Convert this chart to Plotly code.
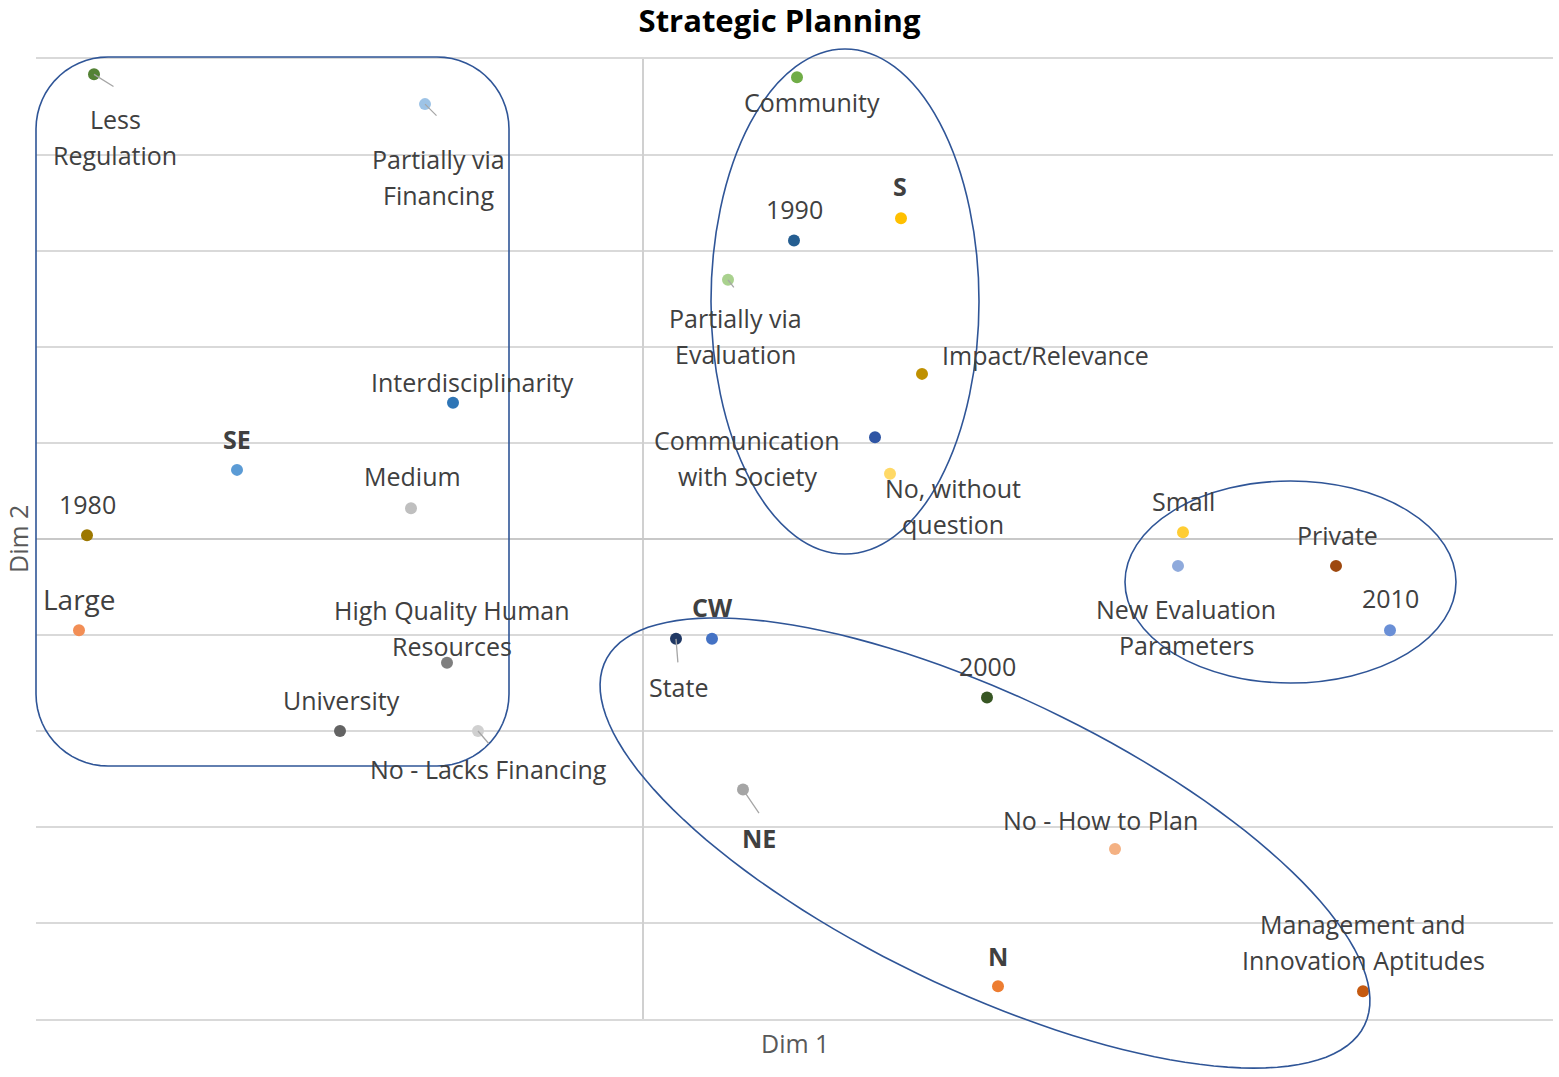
import numpy as np
import plotly.graph_objects as go

# category labels and their coordinates on the two dimensions
labels = [
    "Less\nRegulation", "Partially via\nFinancing", "Interdisciplinarity", "SE",
    "Medium", "1980", "Large", "High Quality Human\nResources", "University",
    "No - Lacks Financing", "CW", "State", "NE", "2000", "No - How to Plan", "N",
    "Management and\nInnovation Aptitudes", "Small", "New Evaluation\nParameters",
    "Private", "2010", "Community", "S", "1990", "Partially via\nEvaluation",
    "Impact/Relevance", "Communication\nwith Society", "No, without\nquestion",
]
dim1 = [-5.49, -2.18, -1.90, -4.06, -2.32, -5.56, -5.64, -1.96, -3.03, -1.65,
        0.69, 0.33, 1.00, 3.44, 4.72, 3.55, 7.20, 5.40, 5.35, 6.93, 7.47,
        1.54, 2.58, 1.51, 0.85, 2.79, 2.32, 2.47]
dim2 = [4.84, 4.53, 1.42, 0.72, 0.32, 0.04, -0.95, -1.29, -2.00, -2.00,
        -1.04, -1.04, -2.61, -1.65, -3.23, -4.66, -4.71, 0.07, -0.28, -0.28, -0.95,
        4.81, 3.34, 3.11, 2.70, 1.72, 1.06, 0.68]
regions = ["SE", "CW", "NE", "N", "S"]

colors = ["#548235", "#9dc3e6", "#2e75b6", "#5b9bd5", "#bfbfbf", "#9c7700", "#f28e55",
          "#7f7f7f", "#636363", "#d0d0d0", "#4472c4", "#203864", "#a5a5a5", "#375623",
          "#f4b183", "#ed7d31", "#c55a11", "#ffcd33", "#8faadc", "#9e480e", "#6a8fd6",
          "#70ad47", "#ffc000", "#255e91", "#a9d18e", "#bf9000", "#2f55a4", "#ffd966"]

# label offsets from the point in pixels (right, down)
label_off = [(21, 63), (13, 73), (19, -21), (0, -31), (1, -32), (0, -31), (0, -31),
             (5, -35), (1, -31), (10, 38), (0, -32), (2, 48), (16, 48), (0, -31),
             (-15, -29), (0, -30), (0, -49), (0, -31), (8, 61), (1, -31), (0, -32),
             (15, 25), (-1, -32), (0, -31), (7, 56), (123, -19), (-128, 21), (63, 32)]
# short leader lines (pixel offset of far end)
leaders = {0: (21, 13), 1: (13, 13), 24: (7, 9), 11: (2, 25), 12: (17, 25), 9: (12, 14)}
big_labels = {"Large": 28}

W, H = 1559, 1077
ML, MR, MT, MB = 36, 6, 59, 58
X0, X1 = -6.07, 9.10
Y0, Y1 = -5.0, 5.0
PW, PH = W - ML - MR, H - MT - MB


def paper(x, y):
    # pixel position -> paper coordinates (not clipped to the plot area)
    return (x - ML) / PW, 1 - (y - MT) / PH


fig = go.Figure()
fig.add_trace(go.Scatter(x=dim1, y=dim2, mode="markers",
                         marker=dict(size=12, color=colors), hoverinfo="skip",
                         showlegend=False))

font = "Segoe UI, Open Sans, Noto Sans, sans-serif"
for i, lab in enumerate(labels):
    lines = lab.split("\n")
    dx, dy = label_off[i]
    for k, line in enumerate(lines):
        shift = dy + (k - (len(lines) - 1) / 2) * 36
        txt = "<b>%s</b>" % line if lab in regions else line
        fig.add_annotation(x=dim1[i], y=dim2[i], text=txt, showarrow=False,
                           xshift=dx, yshift=-shift, xanchor="center", yanchor="middle",
                           font=dict(family=font, size=big_labels.get(lab, 25),
                                     color="#404040"))
for i, (dx, dy) in leaders.items():
    fig.add_annotation(x=dim1[i], y=dim2[i], text="", showarrow=True, ax=dx, ay=dy,
                       arrowhead=0, arrowwidth=1.3, arrowcolor="#a6a6a6", standoff=0)

# group outlines
outline = dict(color="#2f5597", width=1.6)


def path_from(pts):
    d = "M " + " L ".join("%.5f,%.5f" % paper(a, b) for a, b in pts)
    return d + " Z"


# rounded rectangle
r = 72
rx0, rx1, ry0, ry1 = 36, 509, 57, 766
pts = []
for cx, cy, a0 in [(rx1 - r, ry0 + r, -90), (rx1 - r, ry1 - r, 0),
                   (rx0 + r, ry1 - r, 90), (rx0 + r, ry0 + r, 180)]:
    for a in np.linspace(a0, a0 + 90, 16):
        pts.append((cx + r * np.cos(np.radians(a)), cy + r * np.sin(np.radians(a))))
fig.add_shape(type="path", xref="paper", yref="paper", path=path_from(pts), line=outline)

# axis-aligned ellipses
for ex0, ey0, ex1, ey1 in [(711, 49, 979, 554), (1125, 481, 1456, 683)]:
    a0, b0 = paper(ex0, ey0)
    a1, b1 = paper(ex1, ey1)
    fig.add_shape(type="circle", xref="paper", yref="paper",
                  x0=a0, y0=b1, x1=a1, y1=b0, line=outline)

# tilted ellipse
cx, cy, ea, eb, phi = 985, 843, 421, 147, np.radians(25.6)
t = np.linspace(0, 2 * np.pi, 140)
ex = cx + ea * np.cos(t) * np.cos(phi) - eb * np.sin(t) * np.sin(phi)
ey = cy + ea * np.cos(t) * np.sin(phi) + eb * np.sin(t) * np.cos(phi)
fig.add_shape(type="path", xref="paper", yref="paper", path=path_from(zip(ex, ey)),
              line=outline)

fig.add_annotation(xref="paper", yref="paper", x=0.5, y=0, yshift=-24, yanchor="middle",
                   text="Dim 1", showarrow=False,
                   font=dict(family=font, size=25, color="#595959"))
fig.add_annotation(xref="paper", yref="paper", x=0, y=0.5, xshift=-18, xanchor="center",
                   yanchor="middle", text="Dim 2", textangle=-90, showarrow=False,
                   font=dict(family=font, size=25, color="#595959"))

fig.update_layout(
    width=W, height=H,
    margin=dict(l=ML, r=MR, t=MT, b=MB),
    paper_bgcolor="white", plot_bgcolor="white",
    title=dict(text="<b>Strategic Planning</b>", x=0.5, xanchor="center",
               y=1 - 21 / H, yanchor="middle",
               font=dict(family=font, size=31, color="#000000")),
    xaxis=dict(range=[X0, X1], showgrid=False, zeroline=True, zerolinecolor="#d0d0d0",
               zerolinewidth=1.5, showticklabels=False, ticks="", fixedrange=True,
               showline=True, mirror=True, linecolor="#d9d9d9", linewidth=1.5),
    yaxis=dict(range=[Y0, Y1], dtick=1, showgrid=True, gridcolor="#d9d9d9", gridwidth=1.5,
               zeroline=True, zerolinecolor="#c8c8c8", zerolinewidth=1.5,
               showticklabels=False, ticks="", fixedrange=True),
)

fig.write_html("out.html", post_script="document.body.style.margin='0';",
               config={"displayModeBar": False})
